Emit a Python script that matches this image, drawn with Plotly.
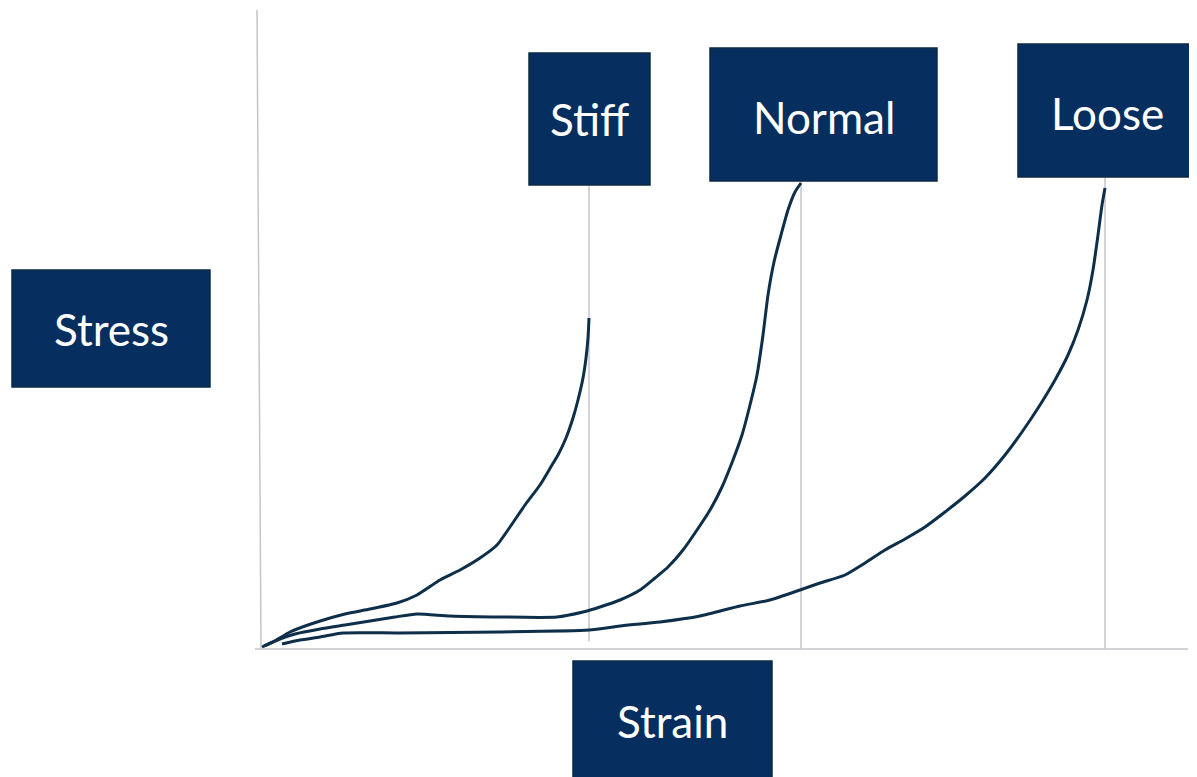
import plotly.graph_objects as go

# ---- data (strain, stress in arbitrary units) ----
stiff_strain = [0, 13, 28, 55, 83, 108, 135, 155, 178, 198, 218, 235, 248, 263, 278, 290, 296, 304, 311, 316, 321, 324, 326, 327]
stiff_stress = [0, 6, 15, 25, 33, 38, 44, 52, 67, 77, 89, 102, 120, 142, 162, 182, 192, 209, 229, 247, 269, 289, 309, 329]

normal_strain = [2, 13, 33, 58, 83, 108, 133, 155, 188, 238, 295, 321, 338, 358, 378, 393, 406, 421, 435, 448, 460, 471, 480, 488, 495, 501, 506, 512, 519, 526, 533, 539]
normal_stress = [1, 6, 13, 18, 22, 26, 30, 33, 31, 30, 30, 35, 40, 47, 57, 69, 80, 97, 117, 137, 160, 187, 212, 242, 272, 312, 352, 385, 412, 437, 455, 464]

loose_strain = [20, 38, 58, 81, 138, 238, 327, 358, 398, 438, 478, 508, 538, 558, 583, 603, 623, 643, 663, 683, 703, 723, 743, 760, 778, 793, 806, 816, 825, 831, 836, 840, 843]
loose_stress = [3, 7, 10, 14, 14, 15, 17, 21, 25, 31, 41, 47, 57, 64, 72, 84, 97, 108, 120, 135, 151, 169, 192, 215, 242, 267, 292, 317, 347, 377, 412, 442, 459]

labels = ["Stiff", "Normal", "Loose"]
axis_labels = ["Stress", "Strain"]

W, H = 1197, 777
OX, OY = 262, 647  # screen pixel of origin
PAD = 8            # page body margin


def px(x):
    return x - OX


def py(y):
    return OY - y


LINE = "#0d2f4a"
GRID = "#c3c5cc"
BOX = "#062f5f"
BOXLINE = "#0c2a45"
FONT = "Century Gothic, Lato, Noto Sans, sans-serif"

fig = go.Figure()
for sx, sy in [(stiff_strain, stiff_stress), (normal_strain, normal_stress), (loose_strain, loose_stress)]:
    fig.add_trace(go.Scatter(x=sx, y=sy, mode="lines", line=dict(color=LINE, width=3, shape="spline", smoothing=0.6),
                             hoverinfo="skip", showlegend=False))

shapes = []
shapes.append(dict(type="line", xref="x", yref="y", x0=px(255), y0=py(649), x1=px(1188), y1=py(649),
                   line=dict(color=GRID, width=1.5), layer="below"))
shapes.append(dict(type="line", xref="x", yref="y", x0=px(257), y0=py(10), x1=px(261), y1=py(648),
                   line=dict(color=GRID, width=1.5), layer="below"))
ends = [stiff_strain[-1], normal_strain[-1], loose_strain[-1]]
tops = [py(185), py(181), py(177)]
bottoms = [py(641), py(649), py(649)]
for e, t, b in zip(ends, tops, bottoms):
    shapes.append(dict(type="line", xref="x", yref="y", x0=e, y0=b, x1=e, y1=t,
                       line=dict(color=GRID, width=1.5), layer="below"))

boxes = [
    (labels[0], 529, 53, 650, 185),
    (labels[1], 710, 48, 937, 181),
    (labels[2], 1018, 44, 1200, 177),
    (axis_labels[0], 12, 270, 210, 387),
    (axis_labels[1], 573, 661, 772, 790),
]
text_y = [119, 117, 113, 329, 721]
annotations = []
for (text, x0, y0, x1, y1), ty in zip(boxes, text_y):
    shapes.append(dict(type="rect", xref="x", yref="y", x0=px(x0), y0=py(y0), x1=px(x1), y1=py(y1),
                       fillcolor=BOX, line=dict(color=BOXLINE, width=1.5), layer="above"))
    tx = (x0 + min(x1, 1197)) / 2
    annotations.append(dict(x=px(tx), y=py(ty), xref="x", yref="y", text=text, showarrow=False,
                            font=dict(family=FONT, size=44, color="white"), xanchor="center", yanchor="middle"))

fig.update_layout(
    width=W, height=H, margin=dict(l=0, r=0, t=0, b=0),
    paper_bgcolor="white", plot_bgcolor="white",
    xaxis=dict(range=[px(PAD), px(W + PAD)], visible=False, fixedrange=True),
    yaxis=dict(range=[py(H + PAD), py(PAD)], visible=False, fixedrange=True),
    shapes=shapes, annotations=annotations,
)
fig.write_html("out.html")
